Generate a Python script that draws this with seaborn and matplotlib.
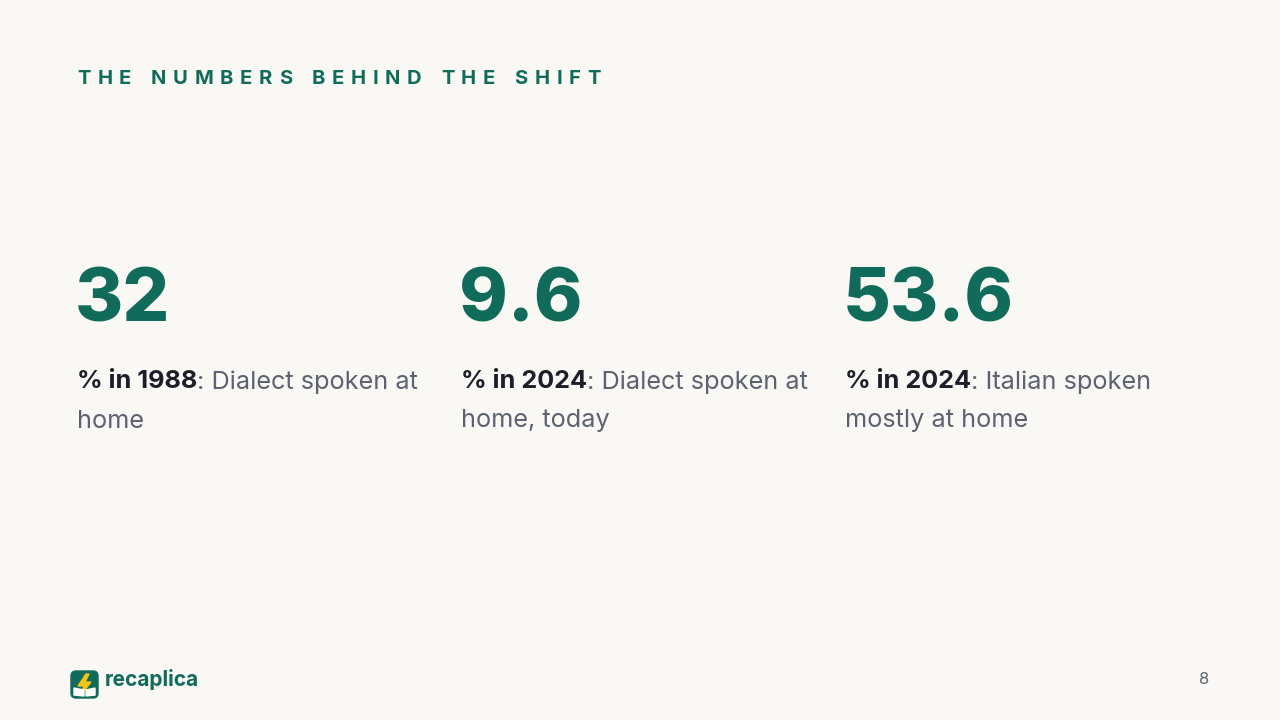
import matplotlib
matplotlib.use("Agg")
import matplotlib.pyplot as plt
import seaborn as sns
from matplotlib.patches import FancyBboxPatch, Polygon

sns.set_theme(style="white")
plt.rcParams['font.family'] = ['Inter', 'DejaVu Sans']

title = "THE NUMBERS BEHIND THE SHIFT"
values = ["32", "9.6", "53.6"]
bold_labels = ["% in 1988", "% in 2024", "% in 2024"]
rest_line1 = [": Dialect spoken at", ": Dialect spoken at", ": Italian spoken"]
rest_line2 = ["home", "home, today", "mostly at home"]
page = "8"
brand = "recaplica"

BG = "#f9f8f4"; GREEN = "#106b5a"; DARK = "#1c1f2a"; GREY = "#5d6271"
W, H = 1280, 720
fig = plt.figure(figsize=(12.8, 7.2), dpi=100, facecolor=BG)
ax = fig.add_axes([0, 0, 1, 1]); ax.set_xlim(0, W); ax.set_ylim(H, 0); ax.axis("off")
ax.set_facecolor(BG)
fig.canvas.draw()
r = fig.canvas.get_renderer()

def width(t):
    return t.get_window_extent(renderer=r).width

# letter-spaced title
x = 77
for ch in title:
    t = ax.text(x, 79, ch, fontsize=14.5, fontweight="bold", color=GREEN, va="center", ha="left")
    x += (width(t) if ch != " " else 6) + 6.7

xs = [77, 461, 845]
for i, xx in enumerate(xs):
    ax.text(xx - 2, 302, values[i], fontsize=53, fontweight="heavy", color=GREEN, va="center", ha="left")
    b = ax.text(xx, 382, bold_labels[i], fontsize=18.2, fontweight="bold", color=DARK, va="center", ha="left")
    ax.text(xx + width(b), 382, rest_line1[i], fontsize=18.2, color=GREY, va="center", ha="left")
    ax.text(xx, 421, rest_line2[i], fontsize=18.2, color=GREY, va="center", ha="left")

# logo
ax.add_patch(FancyBboxPatch((71, 671), 27, 27, boxstyle="round,pad=0,rounding_size=5", color=GREEN))
ax.add_patch(Polygon([[86, 674], [78, 686], [84, 686], [81, 695], [91, 682], [85, 682], [89, 674]], color="#f5c518"))
ax.add_patch(Polygon([[74, 688], [84, 690], [84, 696], [74, 695]], color="white"))
ax.add_patch(Polygon([[86, 690], [95, 688], [95, 695], [86, 696]], color="white"))
ax.text(105, 680, brand, fontsize=15, fontweight="bold", color=GREEN, va="center", ha="left")
ax.text(1209, 679, page, fontsize=12, color=GREY, va="center", ha="right")

fig.savefig("out.png", dpi=100, facecolor=BG)
